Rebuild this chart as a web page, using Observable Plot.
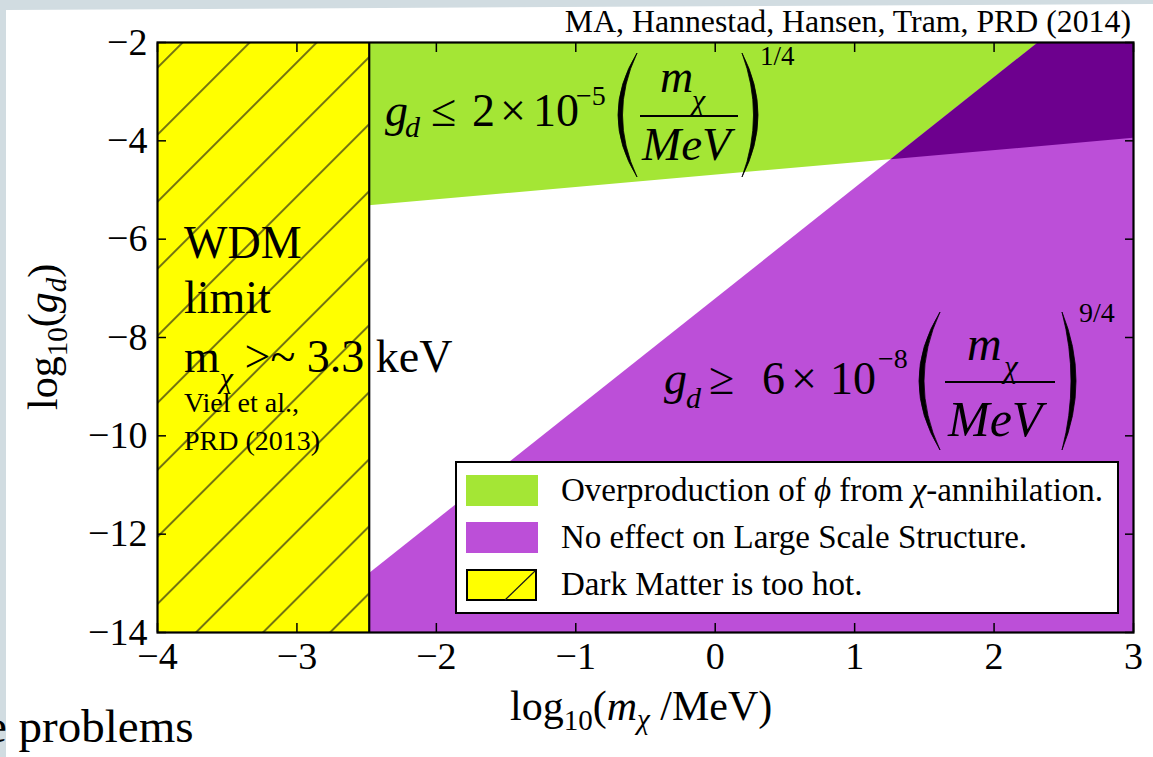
<!DOCTYPE html>
<html>
<head>
<meta charset="utf-8">
<script src="https://cdn.jsdelivr.net/npm/d3@7"></script>
<script src="https://cdn.jsdelivr.net/npm/@observablehq/plot@0.6"></script>
<style>
  html, body { margin: 0; padding: 0; }
  body { width: 1153px; height: 757px; position: relative; overflow: hidden; background: #d1dce1;
         font-family: "Liberation Serif", "Times New Roman", serif; }
  #sheet { position: absolute; left: 0; top: 0; width: 1153px; height: 757px; background: #ffffff;
           clip-path: polygon(6px 10px, 1153px 4px, 1153px 757px, 6px 757px); }
  #chart, #overlay { position: absolute; left: 0; top: 0; }
  #overlay svg { display: block; overflow: visible; }
</style>
</head>
<body>
<div id="sheet"></div>
<div id="chart"></div>
<div id="overlay"></div>
<script>
// Axis ranges and ticks: log10(m_χ / MeV) and log10(g_d)
const xDomain = [-4, 3];
const yDomain = [-14, -2];
const xTicks = [-4, -3, -2, -1, 0, 1, 2, 3];
const yTicks = [-14, -12, -10, -8, -6, -4, -2];

// Warm dark matter bound (Viel et al. 2013): m_χ > 3.3 keV
const wdmMassKeV = 3.3;
// Overproduction of φ: g_d ≤ 2×10^-5 (m_χ/MeV)^(1/4)
const overprodCoeff = 2e-5;
const overprodExp = 1 / 4;
// No effect on LSS: g_d ≥ 6×10^-8 (m_χ/MeV)^(9/4)
const lssCoeff = 6e-8;
const lssExp = 9 / 4;

const legendLabels = [
  "Overproduction of ϕ from χ-annihilation.",
  "No effect on Large Scale Structure.",
  "Dark Matter is too hot."
];

const colGreen = "#a4e635";
const colPurple = "#bc4fd8";
const colDark = "#6d008e";
const colYellow = "#ffff00";

// Boundary lines in log-log space
const xWdm = Math.log10(wdmMassKeV / 1000);
const overprodLine = x => Math.log10(overprodCoeff) + overprodExp * x;
const lssLine = x => Math.log10(lssCoeff) + lssExp * x;
const xCross = (Math.log10(overprodCoeff) - Math.log10(lssCoeff)) / (lssExp - overprodExp);
const xLssTop = (yDomain[1] - Math.log10(lssCoeff)) / lssExp;

const overprodRegion = [xWdm, xDomain[1]].map(x => ({x, y1: overprodLine(x), y2: yDomain[1]}));
const lssRegion = [xWdm, xLssTop, xDomain[1]].map(x => ({x, y1: yDomain[0], y2: Math.min(lssLine(x), yDomain[1])}));
const bothRegion = [xCross, xLssTop, xDomain[1]].map(x => ({x, y1: overprodLine(x), y2: Math.min(lssLine(x), yDomain[1])}));
const wdmRegion = [{x1: xDomain[0], x2: xWdm, y1: yDomain[0], y2: yDomain[1]}];

const chart = Plot.plot({
  width: 1153,
  height: 757,
  marginLeft: 157,
  marginRight: 20,
  marginTop: 42,
  marginBottom: 125,
  style: {background: "transparent", fontFamily: "'Liberation Serif', 'Times New Roman', serif", fontSize: "38px", color: "black", overflow: "visible"},
  x: {domain: xDomain, label: null},
  y: {domain: yDomain, label: null},
  marks: [
    Plot.area(overprodRegion, {x1: "x", y1: "y1", y2: "y2", fill: colGreen, clip: true}),
    Plot.area(lssRegion, {x1: "x", y1: "y1", y2: "y2", fill: colPurple, clip: true}),
    Plot.area(bothRegion, {x1: "x", y1: "y1", y2: "y2", fill: colDark, clip: true}),
    Plot.rect(wdmRegion, {x1: "x1", x2: "x2", y1: "y1", y2: "y2", fill: colYellow}),
    Plot.rect(wdmRegion, {x1: "x1", x2: "x2", y1: "y1", y2: "y2", fill: "url(#hatch)"}),
    Plot.ruleX([xWdm], {stroke: "black", strokeWidth: 2.2}),
    Plot.axisX(xTicks, {anchor: "bottom", tickSize: -9, tickPadding: 19, strokeWidth: 1.5, tickFormat: "d"}),
    Plot.axisX(xTicks, {anchor: "top", tickSize: -9, tickFormat: () => "", strokeWidth: 1.5}),
    Plot.axisY(yTicks, {anchor: "left", tickSize: -9, tickPadding: 19, strokeWidth: 1.5, tickFormat: "d"}),
    Plot.axisY(yTicks, {anchor: "right", tickSize: -9, tickFormat: () => "", strokeWidth: 1.5}),
    Plot.frame({stroke: "black", strokeWidth: 2.2})
  ]
});

// Diagonal hatch used for the "too hot" band
const defs = d3.select(chart).insert("defs", ":first-child");
const hatch = defs.append("pattern")
  .attr("id", "hatch")
  .attr("patternUnits", "userSpaceOnUse")
  .attr("width", 47.4)
  .attr("height", 47.4)
  .attr("patternTransform", "translate(-9.5,0) rotate(45)");
hatch.append("line")
  .attr("x1", 23.7).attr("y1", -1).attr("x2", 23.7).attr("y2", 48.4)
  .attr("stroke", "#1a1a1a").attr("stroke-width", 1.2);

document.getElementById("chart").appendChild(chart);

// Parenthesis drawn as a crescent between x0 (bulge) and x1 (tips)
function paren(x0, x1, y0, y1, t) {
  const ym = (y0 + y1) / 2;
  const dir = x1 > x0 ? 1 : -1;
  return `<path d="M${x1},${y0} Q${2 * x0 - x1},${ym} ${x1},${y1} Q${2 * (x0 + dir * t) - x1},${ym} ${x1},${y0} Z" fill="black" stroke="black" stroke-width="0.8"/>`;
}

const serif = "'Liberation Serif', 'Times New Roman', serif";
const legendRows = [
  {fill: colGreen, hatched: false},
  {fill: colPurple, hatched: false},
  {fill: colYellow, hatched: true}
];

let overlay = `<svg width="1153" height="757" xmlns="http://www.w3.org/2000/svg" font-family="${serif}">`;

// Title
overlay += `<text x="1131" y="32" font-size="31.8" text-anchor="end">MA, Hannestad, Hansen, Tram, PRD (2014)</text>`;

// Overproduction bound
overlay += `<g>
  <text x="385" y="126" font-size="46" font-style="italic">g</text>
  <text x="405" y="137" font-size="30" font-style="italic">d</text>
  <text x="431" y="126" font-size="46">≤</text>
  <text x="472" y="126" font-size="46">2</text>
  <text x="500" y="126" font-size="46">×</text>
  <text x="533" y="126" font-size="46">10</text>
  <text x="576" y="105" font-size="28">−5</text>
  ${paren(618, 637, 53, 177, 4.5)}
  <text x="660" y="92" font-size="46" font-style="italic">m</text>
  <text x="692" y="110" font-size="30" font-style="italic">χ</text>
  <line x1="640" x2="738" y1="116" y2="116" stroke="black" stroke-width="2"/>
  <text x="642" y="160" font-size="47" font-style="italic">MeV</text>
  ${paren(758, 742, 53, 177, 4.5)}
  <text x="760" y="65" font-size="27">1/4</text>
</g>`;

// Large-scale-structure bound
overlay += `<g>
  <text x="664" y="394" font-size="46" font-style="italic">g</text>
  <text x="686" y="408" font-size="30" font-style="italic">d</text>
  <text x="709" y="394" font-size="46">≥</text>
  <text x="762" y="394" font-size="46">6</text>
  <text x="791" y="394" font-size="46">×</text>
  <text x="830" y="394" font-size="46">10</text>
  <text x="878" y="368" font-size="28">−8</text>
  ${paren(919, 940, 312, 450, 5)}
  <text x="967" y="360" font-size="48" font-style="italic">m</text>
  <text x="1004" y="377" font-size="31" font-style="italic">χ</text>
  <line x1="945" x2="1055" y1="382" y2="382" stroke="black" stroke-width="2"/>
  <text x="948" y="436" font-size="50" font-style="italic">MeV</text>
  ${paren(1076, 1062, 312, 450, 5)}
  <text x="1079" y="322" font-size="28">9/4</text>
</g>`;

// WDM annotation
overlay += `<g font-size="46">
  <text x="184" y="258">WDM</text>
  <text x="184" y="313">limit</text>
  <text x="184" y="372">m<tspan font-size="30" font-style="italic" dy="16">χ</tspan><tspan dy="-16"> &gt;~ 3.3 keV</tspan></text>
  <text x="184" y="412" font-size="28">Viel et al.,</text>
  <text x="184" y="450" font-size="28">PRD (2013)</text>
</g>`;

// Axis titles
overlay += `<text x="510" y="720" font-size="42">log<tspan font-size="29" dy="10">10</tspan><tspan dy="-10">(</tspan><tspan font-style="italic">m</tspan><tspan font-size="29" font-style="italic" dy="9">χ</tspan><tspan dy="-9"> /MeV)</tspan></text>`;
overlay += `<text transform="translate(57,410) rotate(-90)" font-size="42">log<tspan font-size="29" dy="10">10</tspan><tspan dy="-10">(</tspan><tspan font-style="italic">g</tspan><tspan font-size="29" font-style="italic" dy="9">d</tspan><tspan dy="-9">)</tspan></text>`;

// Legend
overlay += `<rect x="456" y="462" width="662" height="151" fill="white" stroke="black" stroke-width="2"/>`;
legendRows.forEach((row, i) => {
  const y = 475 + i * 47;
  if (row.hatched) {
    overlay += `<rect x="467" y="${y + 1}" width="69" height="30" fill="${row.fill}" stroke="black" stroke-width="2"/>`;
    overlay += `<line x1="505" y1="${y + 31}" x2="535" y2="${y + 2}" stroke="#1a1a1a" stroke-width="1.2"/>`;
  } else {
    overlay += `<rect x="466" y="${y}" width="72" height="31" fill="${row.fill}"/>`;
  }
  const label = legendLabels[i]
    .replace("ϕ", `<tspan font-style="italic">ϕ</tspan>`)
    .replace("χ", `<tspan font-style="italic">χ</tspan>`);
  overlay += `<text x="561" y="${y + 26}" font-size="33">${label}</text>`;
});

// Slide text running under the figure
overlay += `<text x="-14" y="742" font-size="47">e problems</text>`;

overlay += `</svg>`;
document.getElementById("overlay").innerHTML = overlay;
</script>
</body>
</html>
